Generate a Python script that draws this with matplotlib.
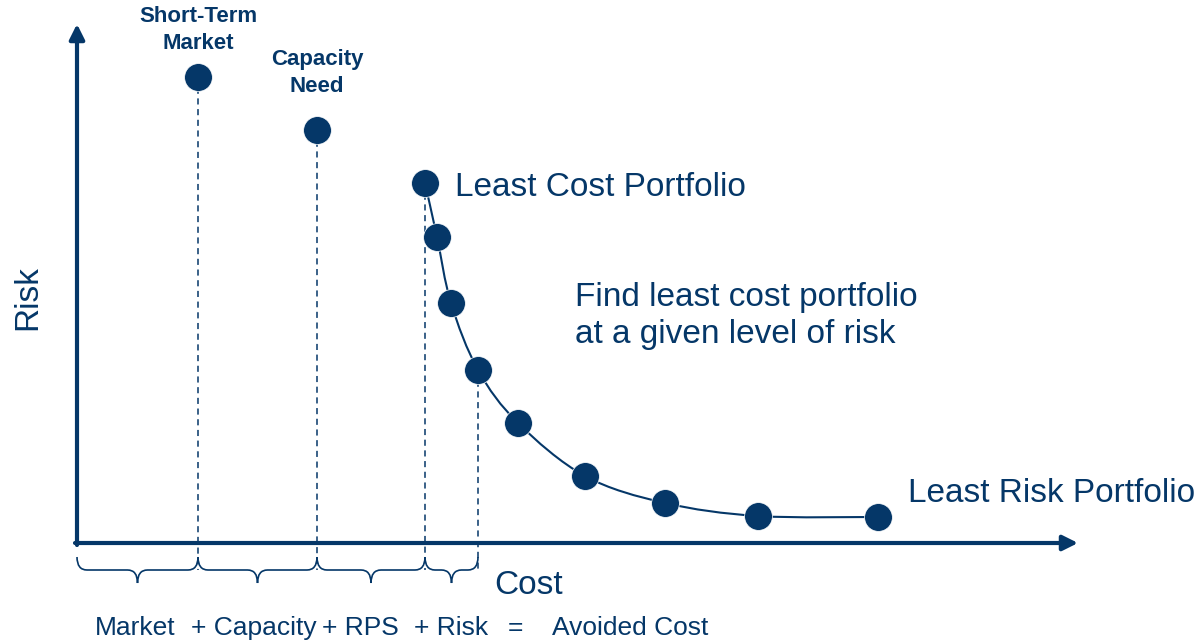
import numpy as np
import matplotlib
matplotlib.use("Agg")
import matplotlib.pyplot as plt
from matplotlib.path import Path
from matplotlib.patches import PathPatch

# Données (coût, risque)
market_pt = (12.1, 46.6)
capacity_pt = (24.0, 41.3)
frontier_cost = [34.8, 36.0, 37.4, 40.1, 44.1, 50.8, 58.8, 68.1, 80.1]
frontier_risk = [36.0, 30.6, 24.0, 17.3, 12.0, 6.7, 4.0, 2.7, 2.6]

# Frontières des accolades (coûts) : origine, marché, capacité, RPS, risque
brace_edges = [0.0, market_pt[0], capacity_pt[0], frontier_cost[0], frontier_cost[3]]
brace_words = ["Market", "+ Capacity", "+ RPS", "+ Risk", "=", "Avoided Cost"]
brace_word_x = [5.8, 17.7, 28.3, 37.4, 43.8, 55.3]

navy = "#053768"
plt.rcParams['font.family'] = ['Liberation Sans', 'DejaVu Sans']

fig = plt.figure(figsize=(12.01, 6.42), dpi=100)
ax = fig.add_axes([0, 0, 1, 1])
ax.set_xlim(-7.7, 112.4)
ax.set_ylim(-9.9, 54.3)
ax.axis('off')

# Axes avec flèches
ax.annotate("", xy=(0, 51.9), xytext=(0, -0.2),
            arrowprops=dict(arrowstyle="-|>,head_length=0.9,head_width=0.45",
                            lw=3, color=navy, shrinkA=0, shrinkB=0))
ax.annotate("", xy=(100.1, 0), xytext=(-0.2, 0),
            arrowprops=dict(arrowstyle="-|>,head_length=0.9,head_width=0.45",
                            lw=3, color=navy, shrinkA=0, shrinkB=0))

# Courbe lissée de la frontière (Catmull-Rom -> Bézier)
pts = np.column_stack([frontier_cost, frontier_risk])
verts = [tuple(pts[0])]
codes = [Path.MOVETO]
n = len(pts)
for i in range(n - 1):
    p0 = pts[i - 1] if i > 0 else pts[i]
    p1 = pts[i]
    p2 = pts[i + 1]
    p3 = pts[i + 2] if i + 2 < n else pts[i + 1]
    c1 = p1 + (p2 - p0) / 6
    c2 = p2 - (p3 - p1) / 6
    verts += [tuple(c1), tuple(c2), tuple(p2)]
    codes += [Path.CURVE4] * 3
ax.add_patch(PathPatch(Path(verts, codes), fill=False, ec=navy, lw=1.5, zorder=2))

# Lignes pointillées verticales
for x, y in [market_pt, capacity_pt, (frontier_cost[0], frontier_risk[0]),
             (frontier_cost[3], frontier_risk[3])]:
    ax.plot([x, x], [y, -2.7], color=navy, lw=1.1, ls=(0, (4, 3)), zorder=1)

# Points
ax.plot([market_pt[0], capacity_pt[0]], [market_pt[1], capacity_pt[1]], 'o',
        ms=20, color=navy, mec='white', mew=0.5, zorder=3)
ax.plot(frontier_cost, frontier_risk, 'o', ms=20, color=navy,
        mec='white', mew=0.5, zorder=3)

# Accolades
ytop, ymid, ybot, r = -1.4, -2.7, -4.0, 1.0
for xa, xb in zip(brace_edges[:-1], brace_edges[1:]):
    xm = (xa + xb) / 2
    bv = [(xa, ytop), (xa, ymid), (xa + r, ymid), (xm - r, ymid),
          (xm, ymid), (xm, ybot), (xm, ymid), (xm + r, ymid),
          (xb - r, ymid), (xb, ymid), (xb, ytop)]
    bc = [Path.MOVETO, Path.CURVE3, Path.CURVE3, Path.LINETO,
          Path.CURVE3, Path.CURVE3, Path.CURVE3, Path.CURVE3,
          Path.LINETO, Path.CURVE3, Path.CURVE3]
    ax.add_patch(PathPatch(Path(bv, bc), fill=False, ec=navy, lw=1.2))

# Textes
ax.text(market_pt[0], 48.9, "Short-Term\nMarket", ha='center', va='bottom',
        fontsize=16, fontweight='bold', color=navy, linespacing=1.38)
ax.text(capacity_pt[0], 44.6, "Capacity\nNeed", ha='center', va='bottom',
        fontsize=16, fontweight='bold', color=navy, linespacing=1.38)
ax.text(37.8, 35.6, "Least Cost Portfolio", ha='left', va='center',
        fontsize=24, color=navy)
ax.text(83.1, 4.9, "Least Risk Portfolio", ha='left', va='center',
        fontsize=24, color=navy)
ax.text(49.8, 22.7, "Find least cost portfolio\nat a given level of risk",
        ha='left', va='center', fontsize=24, color=navy, linespacing=1.25)
ax.text(45.2, -4.3, "Cost", ha='center', va='center', fontsize=24, color=navy)
ax.text(-4.9, 24.5, "Risk", ha='center', va='center', rotation=90,
        fontsize=24, color=navy)
for w, x in zip(brace_words, brace_word_x):
    ax.text(x, -8.5, w, ha='center', va='center', fontsize=19, color=navy)

fig.savefig("out.png", dpi=100)
